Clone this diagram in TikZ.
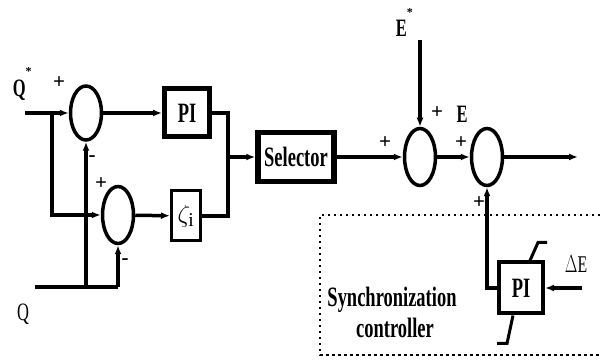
\documentclass[tikz,border=0pt]{standalone}
\usepackage{fontspec}
\setmainfont{Liberation Serif}
\usetikzlibrary{arrows.meta,positioning,shapes.geometric}
\newcommand{\nar}[1]{\scalebox{0.66}[1]{#1}}

\begin{document}
\begin{tikzpicture}[x=1pt,y=-1pt,>={Latex[length=9pt,width=7pt]},line width=3.5pt]
  \tikzstyle{sum}=[draw,ellipse,minimum width=31pt,minimum height=54pt,inner sep=0pt]
  \tikzstyle{blk}=[draw,inner sep=0pt,font=\bfseries\fontsize{28}{30}\selectfont]
  \tikzstyle{sig}=[inner sep=0pt,font=\bfseries\fontsize{25}{27}\selectfont]
  \tikzstyle{sgn}=[inner sep=0pt,font=\bfseries\fontsize{21}{21}\selectfont]
  \useasboundingbox (0,0) rectangle (600,363);
  % summing points
  \node[sum] (sum1) at (86,113) {};
  \node[sum,minimum height=57pt] (sum2) at (118,215) {};
  \node[sum,minimum height=57pt] (sum3) at (420,157) {};
  \node[sum,minimum height=57pt] (sum4) at (487,157) {};
  % blocks
  \node[blk,line width=5pt,minimum width=45pt,minimum height=48pt] (pi1) at (187,113) {\nar{PI}};
  \node[blk,line width=3pt,minimum width=29pt,minimum height=50pt] (zeta) at (186,216) {$\zeta_{\mathrm{i}}$};
  \node[blk,line width=5.5pt,minimum width=76pt,minimum height=49pt] (sel) at (296,157) {\nar{Selector}};
  \node[blk,line width=4pt,minimum width=44pt,minimum height=51pt] (pi2) at (521,288) {\nar{PI}};
  % end points
  \coordinate (qin) at (25,113);
  \coordinate (br) at (52,113);
  \coordinate (qf) at (35,287);
  \coordinate (qa) at (86,287);
  \coordinate (qb) at (118,287);
  \coordinate (jn) at (228,157);
  \coordinate (eref) at (420,40);
  \coordinate (out) at (578,157);
  \coordinate (de) at (582,288);
  % signals
  \node[sig,anchor=base west] (qstar) at (11,97) {\nar{Q}\raisebox{21pt}{\fontsize{12}{12}\selectfont *}};
  \node[sig,font=\fontsize{25}{27}\selectfont] (q) at (23,314) {\nar{Q}};
  \node[sig,anchor=base west] (estar) at (394,37) {\nar{E}\raisebox{20pt}{\fontsize{12}{12}\selectfont *}};
  \node[sig] (e) at (462,114) {\nar{E}};
  \node[sig,font=\fontsize{24}{26}\selectfont] (dlt) at (576,264) {\nar{$\Delta$E}};
  % signs
  \node[sgn] (p1) at (59,83) {+};
  \node[sgn] (m1) at (92,159) {-};
  \node[sgn] (p2) at (101,184) {+};
  \node[sgn] (m2) at (125,262) {-};
  \node[sgn] (p3) at (385,143) {+};
  \node[sgn] (p4) at (437,113) {+};
  \node[sgn] (p5) at (461,143) {+};
  \node[sgn] (p6) at (479,203) {+};
  % connectors
  \draw[->] (qin) -- (sum1);
  \draw[->] (br) |- (sum2);
  \draw (qf) -- (qb);
  \draw[->] (qa) -- (sum1);
  \draw[->] (qb) -- (sum2);
  \draw[->] (sum1) -- (pi1);
  \draw[->] (sum2) -- (zeta);
  \draw (pi1.east) -| (jn) |- (zeta.east);
  \draw[->] (jn) -- (sel);
  \draw[->] (sel) -- (sum3);
  \draw[->] (eref) -- (sum3);
  \draw[->] (sum3) -- (sum4);
  \draw[->] (sum4) -- (out);
  \draw[->] (pi2.west) -| (sum4.south);
  \draw[->] (de) -- (pi2);
  % limiter
  \draw[line width=3pt] ([xshift=9pt]pi2.north) -- ++(8,-18) -- ++(9,0);
  \draw[line width=3pt] ([xshift=-8pt]pi2.south) -- ++(-6,28) -- ++(-10,0);
  % synchronization block
  \draw[line width=2.5pt,dash pattern=on 2.5pt off 3.5pt] (600,215) -| (320,355) -- (600,355);
  \node[sig,font=\bfseries\fontsize{28}{30}\selectfont] (sync) at (392,300) {\nar{Synchronization}};
  \node[sig,font=\bfseries\fontsize{28}{30}\selectfont] (ctrl) at (395,328) {\nar{controller}};
\end{tikzpicture}
\end{document}
